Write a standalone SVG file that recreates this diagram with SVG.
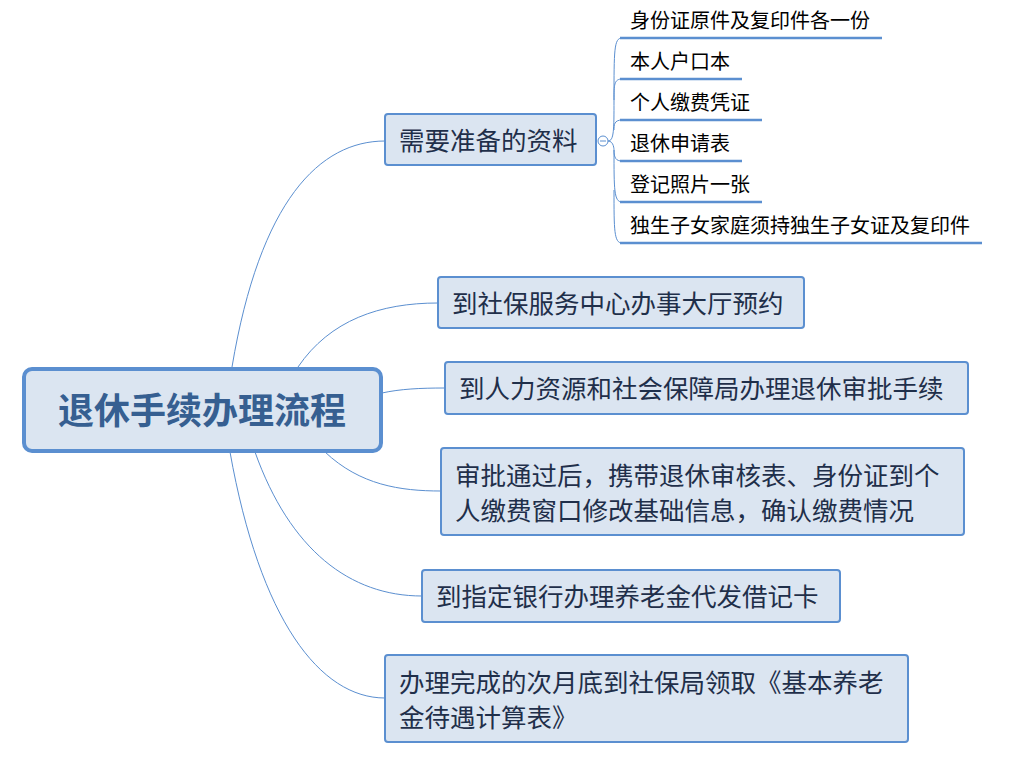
<svg xmlns="http://www.w3.org/2000/svg" width="1022" height="762" viewBox="0 0 1022 762">
<style>
text{font-family:"Microsoft YaHei","Noto Sans CJK SC",sans-serif;}
.b rect{fill:#dbe5f1;stroke:#5b8fd0;stroke-width:2;}
.b text{font-size:25.5px;fill:#1f2f4a;}
.c path{fill:none;stroke:#5b8fd0;stroke-width:1;}
.s text{font-size:20px;fill:#000;}
.u{stroke:#5b8fd0;stroke-width:2.5;}
</style>
<rect width="1022" height="762" fill="#fff"/>
<g class="c" id="connectors">
<path d="M232,367 C260,200 320,141 385,141"/>
<path d="M298,367 C330,320 380,303 438,303"/>
<path d="M382,393 C400,389 420,388 445,388"/>
<path d="M325,452 C360,485 400,491 441,491"/>
<path d="M255,452 C290,550 350,596 422,596"/>
<path d="M230,452 C260,620 320,698 385,698"/>
<path d="M608,141 C614,141 614,130 614,100 C614,50 614,38 622,38"/>
<path d="M614,100 C614,85 614,79 622,79"/>
<path d="M614,130 C614,125 614,120 622,120"/>
<path d="M608,141 C614,141 614,150 614,150 C614,158 616,161 622,161"/>
<path d="M614,150 C614,190 614,202 622,202"/>
<path d="M614,190 C614,230 614,243 622,243"/>
</g>
<circle cx="603" cy="141" r="5" fill="#fff" stroke="#5b8fd0"/>
<line x1="600" y1="141" x2="606" y2="141" stroke="#5b8fd0"/>
<g id="root">
<rect x="24" y="369" width="357" height="82" rx="8" fill="#dbe5f1" stroke="#5b8fd0" stroke-width="4"/>
<text x="202" y="424" text-anchor="middle" font-size="36" font-weight="bold" fill="#365f91">退休手续办理流程</text>
</g>
<g class="b" id="n1"><rect x="385" y="114" width="211" height="51" rx="3"/><text x="399" y="150">需要准备的资料</text></g>
<g class="b" id="n2"><rect x="438" y="277" width="366" height="51" rx="3"/><text x="452" y="313">到社保服务中心办事大厅预约</text></g>
<g class="b" id="n3"><rect x="445" y="362" width="523" height="52" rx="3"/><text x="459" y="398">到人力资源和社会保障局办理退休审批手续</text></g>
<g class="b" id="n4"><rect x="441" y="448" width="523" height="87" rx="3"/><text x="455" y="485">审批通过后，携带退休审核表、身份证到个</text><text x="455" y="520">人缴费窗口修改基础信息，确认缴费情况</text></g>
<g class="b" id="n5"><rect x="422" y="570" width="418" height="52" rx="3"/><text x="436" y="606">到指定银行办理养老金代发借记卡</text></g>
<g class="b" id="n6"><rect x="385" y="655" width="523" height="87" rx="3"/><text x="399" y="692">办理完成的次月底到社保局领取《基本养老</text><text x="399" y="727">金待遇计算表》</text></g>
<g class="s" id="c1"><text x="630" y="28">身份证原件及复印件各一份</text><line class="u" x1="620" y1="38" x2="882" y2="38"/></g>
<g class="s" id="c2"><text x="630" y="69">本人户口本</text><line class="u" x1="620" y1="79" x2="742" y2="79"/></g>
<g class="s" id="c3"><text x="630" y="110">个人缴费凭证</text><line class="u" x1="620" y1="120" x2="762" y2="120"/></g>
<g class="s" id="c4"><text x="630" y="151">退休申请表</text><line class="u" x1="620" y1="161" x2="742" y2="161"/></g>
<g class="s" id="c5"><text x="630" y="192">登记照片一张</text><line class="u" x1="620" y1="202" x2="762" y2="202"/></g>
<g class="s" id="c6"><text x="630" y="233">独生子女家庭须持独生子女证及复印件</text><line class="u" x1="620" y1="243" x2="982" y2="243"/></g>
</svg>
